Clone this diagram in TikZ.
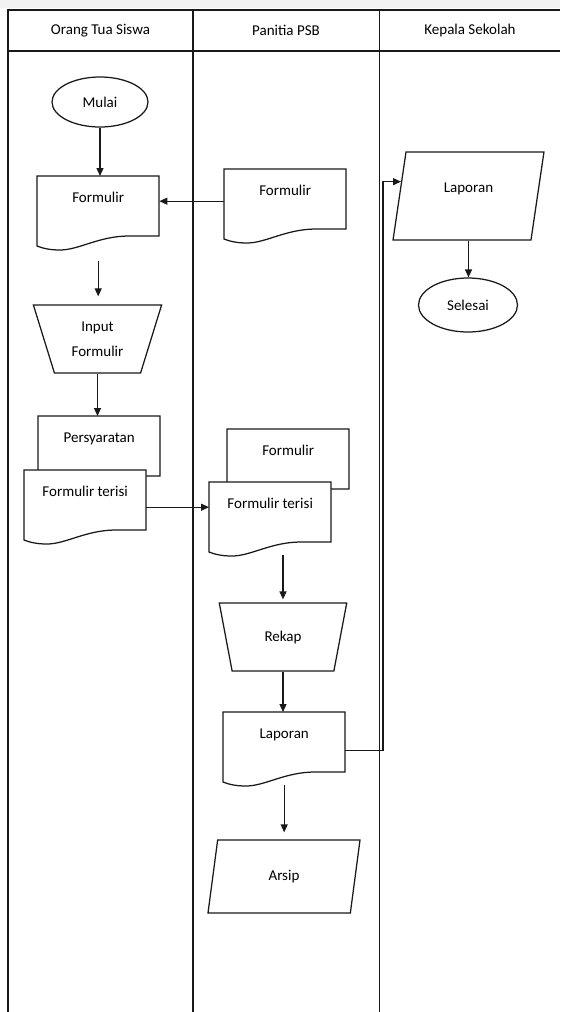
\documentclass[tikz,border=0pt]{standalone}
\usepackage{fontspec}
\setmainfont{Carlito}
\usetikzlibrary{shapes.geometric,arrows.meta,calc}

\tikzset{
  ln/.style={draw=black!90, line width=1.25pt},
  arr/.style={ln, -{Triangle[length=8pt,width=7pt]}},
  lbl/.style={font=\fontsize{15}{25}\selectfont, text=black},
  head/.style={lbl},
  term/.style={ln, fill=white, ellipse, inner sep=0pt, lbl},
  doctext/.style={lbl, inner sep=0pt, minimum width=122pt,
    text height=26.7pt, text depth=33.3pt, anchor=north west},
  docline/.style={ln, fill=white},
  manual/.style={ln, fill=white, trapezium, shape border rotate=180,
    trapezium angle=70, trapezium stretches=true, inner sep=0pt,
    minimum width=129pt, minimum height=68pt, align=center, lbl},
  iobox/.style={ln, fill=white, trapezium, trapezium left angle=80,
    trapezium right angle=100, trapezium stretches=true, inner sep=0pt, lbl},
}

% document symbol: name, top-left x, top-left y, text
\newcommand\docshape[4]{%
  \draw[docline] (#2,#3) -- (#2+122,#3) -- (#2+122,#3+60) -- (#2+92,#3+60)
    .. controls (#2+62,#3+60) and (#2+42,#3+74) .. (#2+23,#3+74)
    .. controls (#2+12,#3+74) and (#2+5,#3+72) .. (#2,#3+70) -- cycle;
  \node[doctext] (#1) at (#2,#3) {#4};
}

\begin{document}
\begin{tikzpicture}[x=1pt, y=-1pt]
  \useasboundingbox (0,0) rectangle (560,1012);
  \fill[black!5] (0,0) rectangle (560,8);

  % swimlane frame
  \draw[ln] (8,1012) -- (8,10) -- (560,10);
  \draw[ln] (8,51) -- (560,51);
  \draw[ln] (193,10) -- (193,1012);
  \draw[ln] (379.5,10) -- (379.5,1012);

  \node[head] (h1) at (100.5,30.5) {Orang Tua Siswa};
  \node[head] (h2) at (286,30.5) {Panitia PSB};
  \node[head] (h3) at (470,30.5) {Kepala Sekolah};

  % Orang Tua Siswa lane
  \node[term, minimum width=96pt, minimum height=50pt] (mulai) at (100,102) {Mulai};
  \docshape{fl}{37}{176}{Formulir}
  \node[manual] (inp) at (97.5,339) {Input\\Formulir};
  \docshape{pers}{38}{416}{Persyaratan}
  \docshape{ft1}{24}{470}{Formulir terisi}

  % Panitia PSB lane
  \docshape{fm}{224}{169}{Formulir}
  \docshape{fb}{227}{429}{Formulir}
  \docshape{ft2}{209}{482}{Formulir terisi}
  \node[manual, minimum width=128pt] (rekap) at (283,637) {Rekap};
  \docshape{lapm}{223}{712}{Laporan}
  \node[iobox, minimum width=152pt, minimum height=73pt] (arsip) at (284,876.5) {Arsip};

  % Kepala Sekolah lane
  \node[iobox, minimum width=151pt, minimum height=88pt,
        text height=11pt, text depth=18pt] (lapk) at (468.5,196) {Laporan};
  \node[term, minimum width=99pt, minimum height=54pt] (selesai) at (468,305) {Selesai};

  % flow
  \draw[arr] (mulai.south) -- (mulai.south |- fl.north);
  \draw[arr] ([yshift=-2pt]fm.west) -- ([yshift=-2pt]fm.west -| fl.east);
  \draw[arr, shorten <=25pt, shorten >=8pt] (fl.south) -- (fl.south |- inp.90);
  \draw[arr] (inp.270) -- (inp.270 |- pers.north);
  \draw[arr] ([yshift=-7pt]ft1.east) -- ([yshift=-7pt]ft1.east -| ft2.west);
  \draw[arr, shorten <=13pt, shorten >=3pt] (rekap.90 |- ft2.south) -- (rekap.90);
  \draw[arr] (rekap.270) -- (rekap.270 |- lapm.north);
  \draw[arr, shorten <=13pt, shorten >=7pt] (lapm.south) -- (lapm.south |- arsip.90);
  \draw[arr] ([yshift=-8pt]lapm.east) -- ++(37.5,0) |- (lapk.168);
  \draw[arr] (lapk.270) -- (lapk.270 |- selesai.north);
\end{tikzpicture}
\end{document}
